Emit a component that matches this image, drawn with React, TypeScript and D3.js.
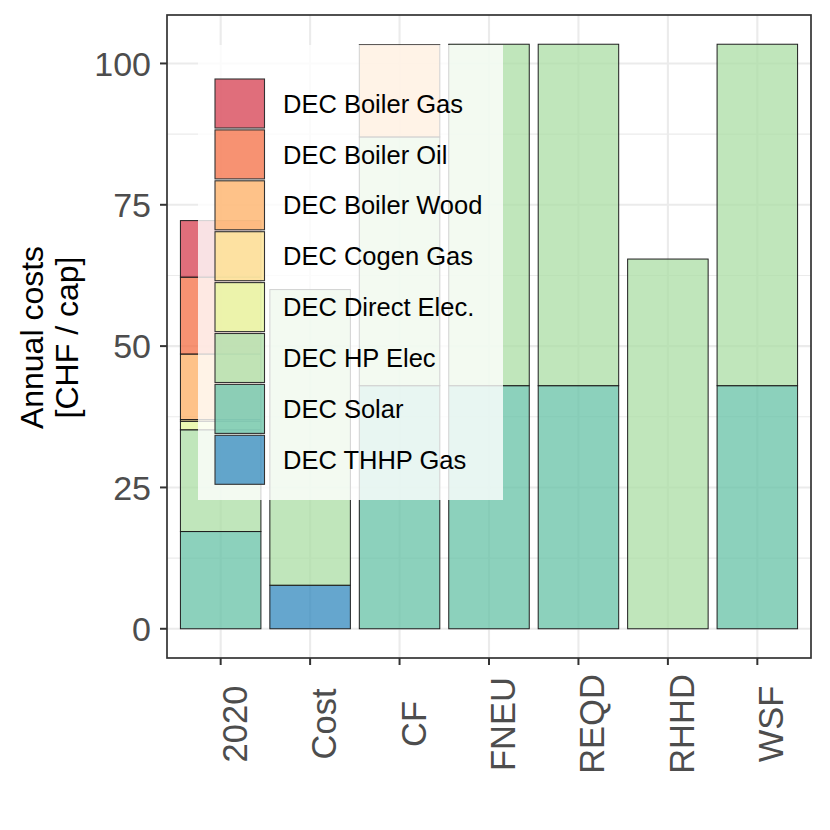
import { useEffect, useRef } from "react";
import * as d3 from "d3";

const scenarios = ["2020", "Cost", "CF", "FNEU", "REQD", "RHHD", "WSF"];

// technologies, top of the stack first (legend order)
const techs = [
  "DEC Boiler Gas",
  "DEC Boiler Oil",
  "DEC Boiler Wood",
  "DEC Cogen Gas",
  "DEC Direct Elec.",
  "DEC HP Elec",
  "DEC Solar",
  "DEC THHP Gas",
];

const techColors = [
  "#D53E4F",
  "#F46D43",
  "#FDAE61",
  "#FEE08B",
  "#E6F598",
  "#ABDDA4",
  "#66C2A5",
  "#3288BD",
];

// annual costs per scenario [CHF / cap]
const boilerGas = [10.0, 0, 0, 0, 0, 0, 0];
const boilerOil = [13.6, 0, 0, 0, 0, 0, 0];
const boilerWood = [11.6, 0, 16.3, 0, 0, 0, 0];
const cogenGas = [0.3, 0, 0, 0, 0, 0, 0];
const directElec = [1.5, 0, 0, 0, 0, 0, 0];
const hpElec = [18.0, 52.3, 44.0, 60.4, 60.4, 65.4, 60.4];
const solar = [17.2, 0, 43.0, 43.0, 43.0, 0, 43.0];
const thhpGas = [0, 7.7, 0, 0, 0, 0, 0];

const yTicks = [0, 25, 50, 75, 100];

const App = () => {
  const ref = useRef<SVGSVGElement>(null);

  useEffect(() => {
    const svg = d3.select(ref.current);
    svg.selectAll("*").remove();

    const width = 830,
      height = 830;
    const panel = { left: 167, right: 811, top: 15, bottom: 658 };
    const font = "'Liberation Sans', Arial, Helvetica, sans-serif";
    const alpha = 0.75;

    const seriesValues = [
      boilerGas,
      boilerOil,
      boilerWood,
      cogenGas,
      directElec,
      hpElec,
      solar,
      thhpGas,
    ];

    const rows = scenarios.map((s, i) => {
      const row: Record<string, any> = { scenario: s };
      techs.forEach((t, j) => (row[t] = seriesValues[j][i]));
      return row;
    });

    // bottom of stack = last tech
    const stackKeys = techs.slice().reverse();
    const stacked = d3.stack<any>().keys(stackKeys)(rows);

    const colorScale = d3.scaleOrdinal<string>().domain(techs).range(techColors);

    const maxTotal =
      d3.max(rows, (r) => d3.sum(techs, (t) => r[t] as number)) || 100;
    const pad = maxTotal * 0.05;

    const x = d3
      .scaleBand<string>()
      .domain(scenarios)
      .range([panel.left, panel.right])
      .paddingInner(0.1)
      .paddingOuter(0.15);
    const y = d3
      .scaleLinear()
      .domain([-pad, maxTotal + pad])
      .range([panel.bottom, panel.top]);
    const cx = (d: string) => (x(d) ?? 0) + x.bandwidth() / 2;

    svg.attr("width", width).attr("height", height);
    svg
      .append("rect")
      .attr("width", width)
      .attr("height", height)
      .attr("fill", "#ffffff");

    // grid
    const grid = svg.append("g");
    const minor = yTicks.slice(0, -1).map((t) => t + 12.5);
    grid
      .selectAll(".minor")
      .data(minor)
      .enter()
      .append("line")
      .attr("x1", panel.left)
      .attr("x2", panel.right)
      .attr("y1", (d) => y(d))
      .attr("y2", (d) => y(d))
      .attr("stroke", "#EBEBEB")
      .attr("stroke-width", 1.1);
    grid
      .selectAll(".major")
      .data(yTicks)
      .enter()
      .append("line")
      .attr("x1", panel.left)
      .attr("x2", panel.right)
      .attr("y1", (d) => y(d))
      .attr("y2", (d) => y(d))
      .attr("stroke", "#EBEBEB")
      .attr("stroke-width", 2.1);
    grid
      .selectAll(".vmajor")
      .data(scenarios)
      .enter()
      .append("line")
      .attr("x1", cx)
      .attr("x2", cx)
      .attr("y1", panel.top)
      .attr("y2", panel.bottom)
      .attr("stroke", "#EBEBEB")
      .attr("stroke-width", 2.1);

    // stacked bars
    const layers = svg
      .append("g")
      .selectAll("g")
      .data(stacked)
      .enter()
      .append("g")
      .attr("fill", (d) => colorScale(d.key))
      .attr("fill-opacity", alpha);
    layers
      .selectAll("rect")
      .data((d) => d.filter((seg) => seg[1] - seg[0] > 0))
      .enter()
      .append("rect")
      .attr("x", (d) => x(d.data.scenario) ?? 0)
      .attr("width", x.bandwidth())
      .attr("y", (d) => y(d[1]))
      .attr("height", (d) => y(d[0]) - y(d[1]))
      .attr("stroke", "#1e1e1e")
      .attr("stroke-width", 1);

    // legend (inside the panel)
    const legend = svg.append("g");
    legend
      .append("rect")
      .attr("x", 198)
      .attr("y", 45)
      .attr("width", 305)
      .attr("height", 455)
      .attr("fill", "#ffffff")
      .attr("fill-opacity", 0.8);
    const items = legend
      .selectAll(".item")
      .data(techs)
      .enter()
      .append("g")
      .attr("transform", (_, i) => `translate(215,${79 + i * 50.9})`);
    items
      .append("rect")
      .attr("width", 49.5)
      .attr("height", 49)
      .attr("fill", (d) => colorScale(d))
      .attr("fill-opacity", alpha)
      .attr("stroke", "#333333")
      .attr("stroke-width", 1.1);
    items
      .append("text")
      .attr("x", 68)
      .attr("y", 24.5)
      .attr("dy", "0.36em")
      .attr("fill", "#000000")
      .style("font-family", font)
      .style("font-size", "25.5px")
      .text((d) => d);

    // panel border
    svg
      .append("rect")
      .attr("x", panel.left)
      .attr("y", panel.top)
      .attr("width", panel.right - panel.left)
      .attr("height", panel.bottom - panel.top)
      .attr("fill", "none")
      .attr("stroke", "#333333")
      .attr("stroke-width", 1.7);

    // y axis
    const yAxis = svg.append("g");
    yAxis
      .selectAll("line")
      .data(yTicks)
      .enter()
      .append("line")
      .attr("x1", panel.left - 7)
      .attr("x2", panel.left)
      .attr("y1", (d) => y(d))
      .attr("y2", (d) => y(d))
      .attr("stroke", "#333333")
      .attr("stroke-width", 2);
    yAxis
      .selectAll("text")
      .data(yTicks)
      .enter()
      .append("text")
      .attr("x", 151)
      .attr("y", (d) => y(d))
      .attr("dy", "0.36em")
      .attr("text-anchor", "end")
      .attr("fill", "#4D4D4D")
      .style("font-family", font)
      .style("font-size", "34px")
      .text((d) => d);

    // x axis
    const xAxis = svg.append("g");
    xAxis
      .selectAll("line")
      .data(scenarios)
      .enter()
      .append("line")
      .attr("x1", cx)
      .attr("x2", cx)
      .attr("y1", panel.bottom)
      .attr("y2", panel.bottom + 7)
      .attr("stroke", "#333333")
      .attr("stroke-width", 2);
    xAxis
      .selectAll("text")
      .data(scenarios)
      .enter()
      .append("text")
      .attr("transform", (d) => `translate(${cx(d) + 26},724) rotate(-90)`)
      .attr("text-anchor", "middle")
      .attr("fill", "#4D4D4D")
      .style("font-family", font)
      .style("font-size", "34.5px")
      .text((d) => d);

    // y title
    const title = svg
      .append("text")
      .attr("transform", `translate(0,337.5) rotate(-90)`)
      .attr("text-anchor", "middle")
      .attr("fill", "#000000")
      .style("font-family", font)
      .style("font-size", "32px");
    title.append("tspan").attr("x", 0).attr("y", 43).text("Annual costs");
    title.append("tspan").attr("x", 0).attr("y", 78).text("[CHF / cap]");
  }, []);

  return (
    <svg ref={ref} style={{ position: "absolute", left: 0, top: 0 }} />
  );
};

export default App;
